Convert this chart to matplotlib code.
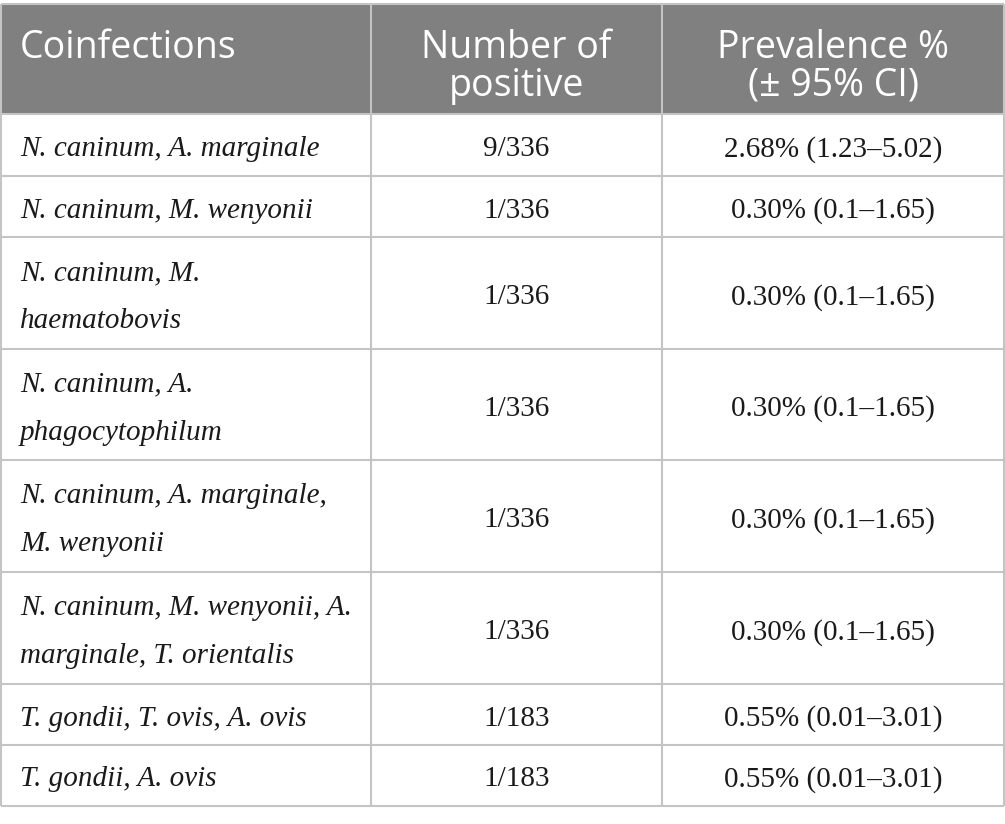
import matplotlib.pyplot as plt

## the data
header = ["Coinfections", "Number of\npositive", "Prevalence %\n(\u00b1 95% CI)"]
coinfections = ["N. caninum, A. marginale",
                "N. caninum, M. wenyonii",
                "N. caninum, M.\nhaematobovis",
                "N. caninum, A.\nphagocytophilum",
                "N. caninum, A. marginale,\nM. wenyonii",
                "N. caninum, M. wenyonii, A.\nmarginale, T. orientalis",
                "T. gondii, T. ovis, A. ovis",
                "T. gondii, A. ovis"]
positives = ["9/336", "1/336", "1/336", "1/336", "1/336", "1/336", "1/183", "1/183"]
prevalence = ["2.68% (1.23\u20135.02)", "0.30% (0.1\u20131.65)", "0.30% (0.1\u20131.65)",
              "0.30% (0.1\u20131.65)", "0.30% (0.1\u20131.65)", "0.30% (0.1\u20131.65)",
              "0.55% (0.01\u20133.01)", "0.55% (0.01\u20133.01)"]

## layout in pixels
W, H = 1005, 824
col_x = [1, 371, 662, 1004]
row_y = [4, 114, 176, 237, 349, 460, 572, 684, 745, 806]
line_col = '#c4c4c4'
head_bg = '#808080'

fig = plt.figure(figsize=(W / 100, H / 100), dpi=100)
ax = fig.add_axes([0, 0, 1, 1])
ax.set_xlim(0, W)
ax.set_ylim(H, 0)
ax.axis('off')

# header background
ax.fill_between([col_x[0], col_x[-1]], row_y[0], row_y[1], color=head_bg, lw=0)


def put_lines(text, x, yc, ha, spacing, **kw):
    lines = text.split('\n')
    n = len(lines)
    for i, ln in enumerate(lines):
        y = yc + (i - (n - 1) / 2) * spacing
        ax.text(x, y, ln, ha=ha, va='center_baseline', **kw)


# header text
head_kw = dict(color='white', fontsize=27, family='Open Sans')
hy = (row_y[0] + row_y[1]) / 2 + 3
put_lines(header[0], 20, 43, 'left', 38, **head_kw)
put_lines(header[1], (col_x[1] + col_x[2]) / 2, hy, 'center', 38, **head_kw)
put_lines(header[2], (col_x[2] + col_x[3]) / 2, hy, 'center', 38, **head_kw)

# body rows
body_kw = dict(color='#1a1a1a', fontsize=21, family='Liberation Serif')
for i in range(len(coinfections)):
    yc = (row_y[i + 1] + row_y[i + 2]) / 2 + 1
    put_lines(coinfections[i], 20, yc, 'left', 48, style='italic', **body_kw)
    put_lines(positives[i], (col_x[1] + col_x[2]) / 2, yc, 'center', 48, **body_kw)
    put_lines(prevalence[i], (col_x[2] + col_x[3]) / 2, yc, 'center', 48, **body_kw)

# grid lines
for y in row_y:
    ax.plot([col_x[0], col_x[-1]], [y, y], color=line_col, lw=1.5, solid_capstyle='butt')
for x in col_x:
    ax.plot([x, x], [row_y[0], row_y[-1]], color=line_col, lw=1.5, solid_capstyle='butt')

fig.savefig('out.png', dpi=100)
